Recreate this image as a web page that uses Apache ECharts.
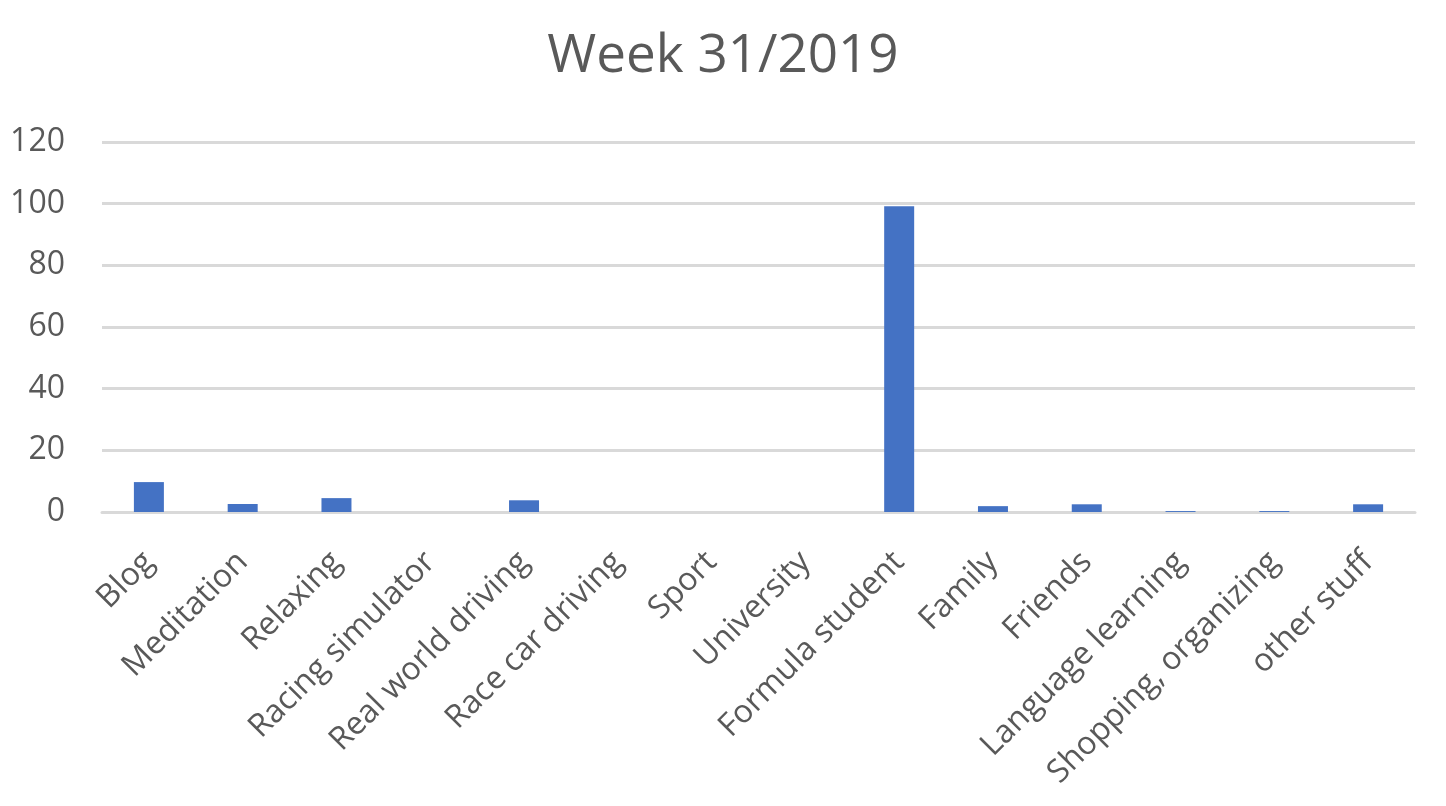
<!DOCTYPE html>
<html>
<head>
<meta charset="utf-8">
<title>Week 31/2019</title>
<script src="https://cdn.jsdelivr.net/npm/echarts@6/dist/echarts.min.js"></script>
<style>
  html, body { margin: 0; padding: 0; background: #fff; }
  #chart { width: 1446px; height: 806px; }
</style>
</head>
<body>
<div id="chart"></div>
<script>
// categories and hours per activity
const categories = [
  'Blog', 'Meditation', 'Relaxing', 'Racing simulator', 'Real world driving',
  'Race car driving', 'Sport', 'University', 'Formula student', 'Family',
  'Friends', 'Language learning', 'Shopping, organizing', 'other stuff'
]
const hours = [9.7, 2.6, 4.5, 0, 3.8, 0, 0, 0, 99.2, 1.9, 2.5, 0.3, 0.3, 2.5]
const yTicks = [0, 20, 40, 60, 80, 100, 120]

const textColor = '#595959'
const gridColor = '#d9d9d9'
const font = '"Open Sans", "Liberation Sans", sans-serif'

const chart = echarts.init(document.getElementById('chart'))

chart.setOption({
  animation: false,
  title: {
    text: 'Week 31/2019',
    left: 'center',
    top: 25,
    textStyle: { fontFamily: font, fontSize: 53, fontWeight: 'normal', color: textColor }
  },
  grid: { left: 102, right: 31, top: 142, bottom: 294 },
  xAxis: {
    type: 'category',
    data: categories,
    axisLine: { lineStyle: { color: gridColor, width: 3 } },
    axisTick: { show: false },
    axisLabel: {
      rotate: 45,
      interval: 0,
      margin: 45,
      fontFamily: font,
      fontSize: 32,
      color: textColor
    }
  },
  yAxis: {
    type: 'value',
    min: yTicks[0],
    max: yTicks[yTicks.length - 1],
    interval: 20,
    axisLine: { show: false },
    axisTick: { show: false },
    splitLine: { lineStyle: { color: gridColor, width: 3 } },
    axisLabel: {
      margin: 37,
      fontFamily: font,
      fontSize: 32,
      color: textColor
    }
  },
  series: [
    {
      type: 'bar',
      data: hours,
      barWidth: 30,
      itemStyle: { color: '#4472c4' }
    }
  ]
})
</script>
</body>
</html>
